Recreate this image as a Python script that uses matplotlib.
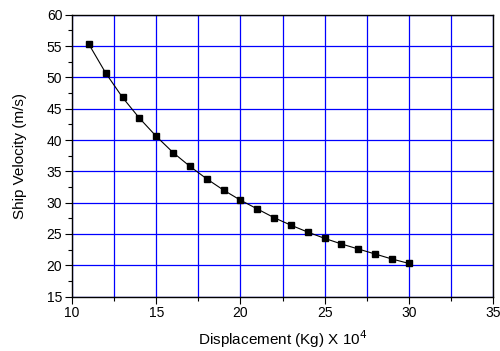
import numpy as np
import matplotlib.pyplot as plt
from matplotlib.ticker import MultipleLocator

plt.rcParams['font.family'] = ['Liberation Sans', 'DejaVu Sans']

displacement = [11, 12, 13, 14, 15, 16, 17, 18, 19, 20,
                21, 22, 23, 24, 25, 26, 27, 28, 29, 30]
velocity = [55.3, 50.7, 46.8, 43.5, 40.6, 38.0, 35.8, 33.8, 32.0, 30.4,
            29.0, 27.6, 26.4, 25.3, 24.3, 23.4, 22.6, 21.8, 21.0, 20.3]

fig = plt.figure(figsize=(5, 3.51), dpi=100)
ax = fig.add_axes([0.144, 0.155, 0.842, 0.803])

ax.plot(displacement, velocity, color='black', lw=0.8, marker='s', ms=5,
        mfc='black', mec='black', zorder=3)

ax.set_xlim(10, 35)
ax.set_ylim(15, 60)
ax.xaxis.set_major_locator(MultipleLocator(5))
ax.xaxis.set_minor_locator(MultipleLocator(2.5))
ax.yaxis.set_major_locator(MultipleLocator(5))
ax.yaxis.set_minor_locator(MultipleLocator(2.5))

ax.grid(True, which='major', color='#0000ff', lw=0.9)
ax.grid(True, which='minor', axis='x', color='#0000ff', lw=0.9)
ax.set_axisbelow(True)

ax.tick_params(which='major', direction='out', length=5, width=0.8,
               labelsize=10, colors='black', pad=2)
ax.tick_params(which='minor', direction='out', length=3, width=0.8)
for s in ax.spines.values():
    s.set_linewidth(1.0)

ax.set_xlabel('Displacement (Kg) X 10$^4$', fontsize=11, labelpad=6)
ax.set_ylabel('Ship Velocity (m/s)', fontsize=11, labelpad=14)

fig.savefig('out.png', dpi=100)
